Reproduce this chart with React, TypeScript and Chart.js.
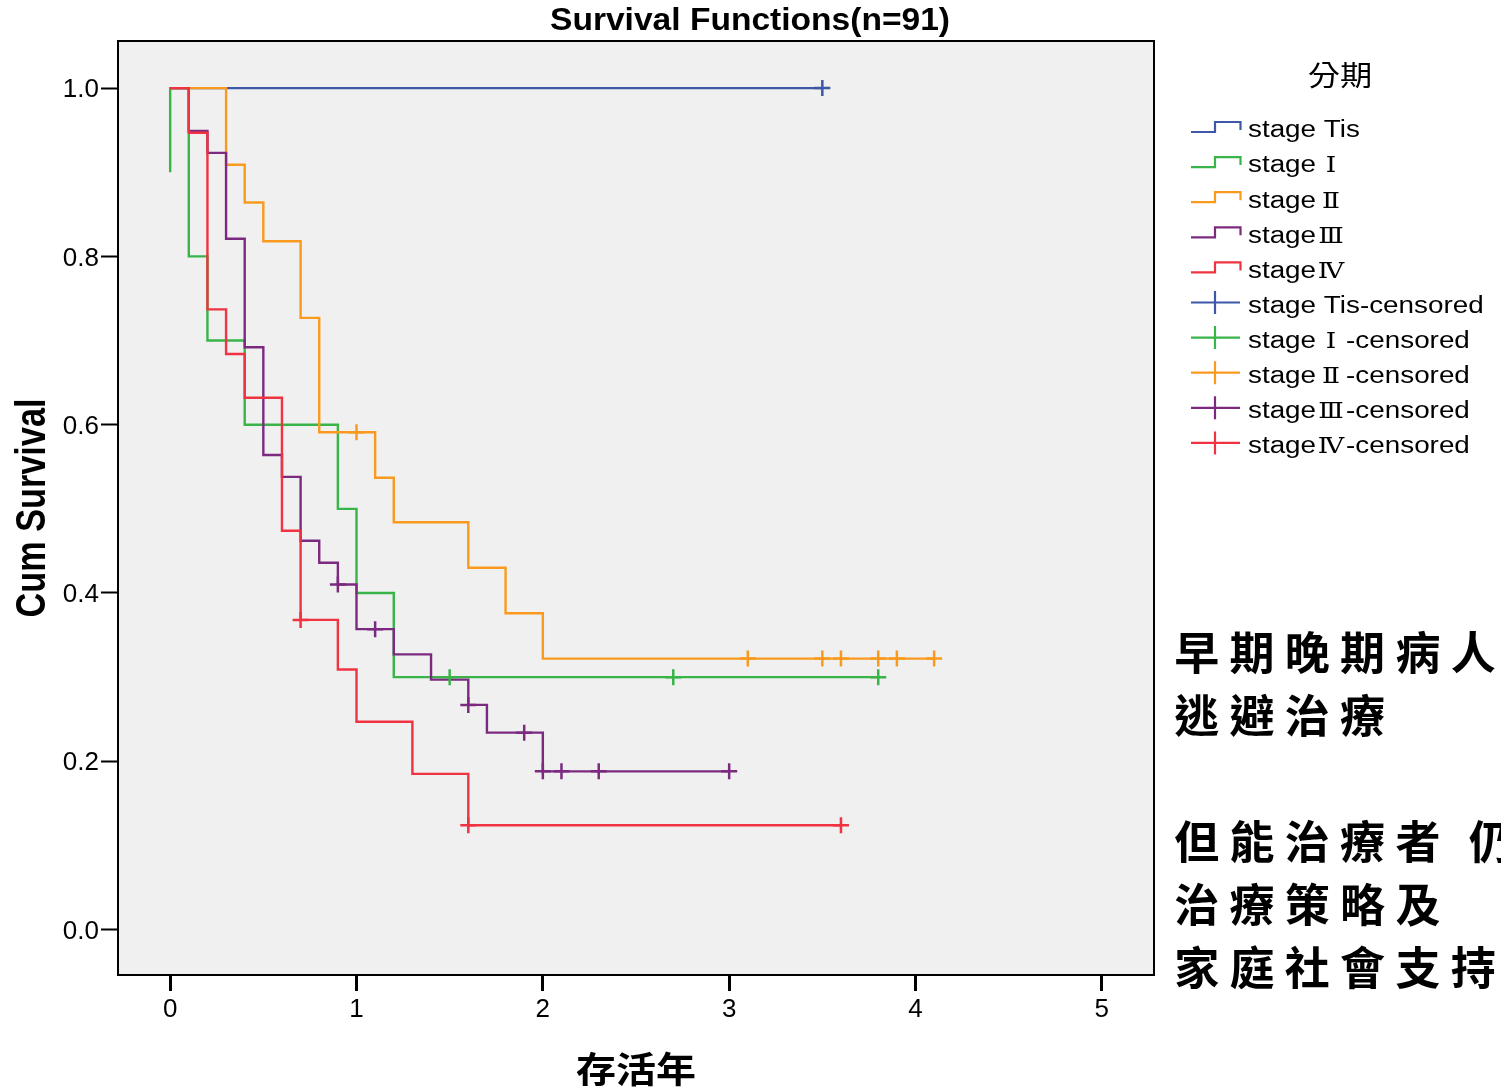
import React, { useEffect, useRef } from 'react';
import { Chart, registerables } from 'chart.js';

Chart.register(...registerables);

// ---------- data ----------
const chartTitle = 'Survival Functions(n=91)';
const xAxisTitle = '存活年';
const yAxisTitle = 'Cum Survival';
const legendTitle = '分期';

const xTickValues = [0, 1, 2, 3, 4, 5];
const yTickValues = [0, 0.2, 0.4, 0.6, 0.8, 1.0];

// legend label parts: prefix + roman numeral (full-width cell) + suffix
const stagePrefixes = ['stage Tis', 'stage', 'stage', 'stage', 'stage'];
const stageNumerals = ['', 'Ⅰ', 'Ⅱ', 'Ⅲ', 'Ⅳ'];
const censoredSuffix = '-censored';

// stage Tis
const tisTimes = [0, 3.5];
const tisSurv = [1.0, 1.0];
const tisCensorTimes = [3.5];
const tisCensorSurv = [1.0];

// stage I
const s1Times = [0, 0, 0.1, 0.2, 0.4, 0.9, 1.0, 1.2, 3.8];
const s1Surv = [0.9, 1.0, 0.8, 0.7, 0.6, 0.5, 0.4, 0.3, 0.3];
const s1CensorTimes = [1.5, 2.7, 3.8];
const s1CensorSurv = [0.3, 0.3, 0.3];

// stage II
const s2Times = [0, 0.3, 0.4, 0.5, 0.7, 0.8, 1.1, 1.2, 1.6, 1.8, 2.0, 4.1];
const s2Surv = [1.0, 0.909, 0.864, 0.818, 0.727, 0.591, 0.537, 0.484, 0.43, 0.376, 0.322, 0.322];
const s2CensorTimes = [1.0, 3.1, 3.5, 3.6, 3.8, 3.9, 4.1];
const s2CensorSurv = [0.591, 0.322, 0.322, 0.322, 0.322, 0.322, 0.322];

// stage III
const s3Times = [0, 0.1, 0.2, 0.3, 0.4, 0.5, 0.6, 0.7, 0.8, 0.9, 1.0, 1.2, 1.4, 1.6, 1.7, 2.0, 3.0];
const s3Surv = [1.0, 0.949, 0.923, 0.821, 0.692, 0.564, 0.538, 0.462, 0.436, 0.41, 0.357, 0.327, 0.297, 0.267, 0.234, 0.188, 0.188];
const s3CensorTimes = [0.9, 1.1, 1.6, 1.9, 2.0, 2.1, 2.3, 3.0];
const s3CensorSurv = [0.41, 0.357, 0.267, 0.234, 0.188, 0.188, 0.188, 0.188];

// stage IV
const s4Times = [0, 0.1, 0.2, 0.3, 0.4, 0.6, 0.7, 0.9, 1.0, 1.3, 1.6, 3.6];
const s4Surv = [1.0, 0.947, 0.737, 0.684, 0.632, 0.474, 0.368, 0.309, 0.247, 0.185, 0.124, 0.124];
const s4CensorTimes = [0.7, 1.6, 3.6];
const s4CensorSurv = [0.368, 0.124, 0.124];

const noteLines = ['早期晚期病人', '逃避治療', '', '但能治療者 仍', '治療策略及', '家庭社會支持'];

// ---------- styles ----------
const stageColors = ['#3d57a9', '#38b449', '#f99a1f', '#7b2a80', '#ef3340'];
const LATIN = '"Liberation Sans", Arial, "Noto Sans CJK TC", sans-serif';
const SERIF = '"Liberation Serif", "DejaVu Serif", "Noto Sans CJK TC", serif';
const CJK = '"Noto Sans CJK TC", "Noto Sans CJK SC", sans-serif';

const pts = (xs: number[], ys: number[]) => xs.map((x, i) => ({ x, y: ys[i] }));

function scaledText(
  ctx: CanvasRenderingContext2D,
  text: string,
  x: number,
  y: number,
  font: string,
  sx: number,
  align: CanvasTextAlign = 'left',
  baseline: CanvasTextBaseline = 'alphabetic'
) {
  ctx.save();
  ctx.font = font;
  ctx.textAlign = align;
  ctx.textBaseline = baseline;
  ctx.fillStyle = '#000';
  ctx.translate(x, y);
  ctx.scale(sx, 1);
  ctx.fillText(text, 0, 0);
  ctx.restore();
}

const decorPlugin = {
  id: 'decor',
  beforeDraw(chart: any) {
    const { ctx, chartArea: a } = chart;
    ctx.save();
    ctx.fillStyle = '#ffffff';
    ctx.fillRect(0, 0, chart.width, chart.height);
    ctx.fillStyle = '#f0f0f0';
    ctx.fillRect(a.left, a.top, a.right - a.left, a.bottom - a.top);
    ctx.restore();
  },
  afterDraw(chart: any) {
    const { ctx, chartArea: a } = chart;
    ctx.save();
    // plot frame
    ctx.strokeStyle = '#000';
    ctx.lineWidth = 2;
    ctx.strokeRect(a.left, a.top, a.right - a.left, a.bottom - a.top);

    // chart title
    ctx.font = `bold 32px ${LATIN}`;
    const tw = ctx.measureText(chartTitle).width;
    scaledText(ctx, chartTitle, 750, 30, `bold 32px ${LATIN}`, 400 / tw, 'center');

    // y axis title (rotated)
    ctx.font = `bold 36px ${LATIN}`;
    const yw = ctx.measureText(yAxisTitle).width;
    ctx.save();
    ctx.translate(45, (a.top + a.bottom) / 2);
    ctx.rotate(-Math.PI / 2);
    ctx.scale(219 / yw, 1.16);
    ctx.textAlign = 'center';
    ctx.textBaseline = 'alphabetic';
    ctx.fillStyle = '#000';
    ctx.fillText(yAxisTitle, 0, 0);
    ctx.restore();

    // x axis title
    ctx.font = `bold 36px ${CJK}`;
    const xw = ctx.measureText(xAxisTitle).width;
    scaledText(ctx, xAxisTitle, (a.left + a.right) / 2, 1083, `bold 36px ${CJK}`, 120 / xw, 'center');

    // legend title
    scaledText(ctx, legendTitle, 1340, 75, `28px ${CJK}`, 1.15, 'center', 'middle');

    // legend entries
    const rows = [
      ...stagePrefixes.map((p, i) => ({ p, n: stageNumerals[i], s: '', color: stageColors[i], kind: 'step' })),
      ...stagePrefixes.map((p, i) => ({ p, n: stageNumerals[i], s: censoredSuffix, color: stageColors[i], kind: 'cross' })),
    ];
    const SX = 1.21;
    rows.forEach((r, i) => {
      const cy = 129 + i * 35.1;
      ctx.save();
      ctx.strokeStyle = r.color;
      ctx.lineWidth = 2.2;
      ctx.beginPath();
      if (r.kind === 'step') {
        ctx.moveTo(1191, cy + 3);
        ctx.lineTo(1215, cy + 3);
        ctx.lineTo(1215, cy - 7);
        ctx.lineTo(1240.5, cy - 7);
        ctx.lineTo(1240.5, cy + 1);
      } else {
        ctx.moveTo(1191, cy - 2);
        ctx.lineTo(1240, cy - 2);
        ctx.moveTo(1215, cy - 13.5);
        ctx.lineTo(1215, cy + 9.5);
      }
      ctx.stroke();
      ctx.restore();
      const base = cy + 8.3;
      const latinFont = `23px ${LATIN}`;
      scaledText(ctx, r.p, 1248, base, latinFont, SX, 'left');
      let x = 1248;
      ctx.font = latinFont;
      x += ctx.measureText(r.p).width * SX;
      if (r.n) {
        scaledText(ctx, r.n, x + 15, base, `23px ${SERIF}`, 1.15, 'center');
        x += 30;
      }
      if (r.s) scaledText(ctx, r.s, x, base, latinFont, SX, 'left');
    });

    // annotation text
    ctx.save();
    ctx.font = `bold 45px ${CJK}`;
    ctx.fillStyle = '#000';
    ctx.textAlign = 'center';
    ctx.textBaseline = 'middle';
    noteLines.forEach((line, li) => {
      const cy = 653 + li * 63;
      let cx = 1196.7;
      for (const ch of Array.from(line)) {
        if (ch === ' ') {
          cx += 18;
          continue;
        }
        ctx.fillText(ch, cx, cy);
        cx += 55.3;
      }
    });
    ctx.restore();
    ctx.restore();
  },
};

export default function App() {
  const canvasRef = useRef<HTMLCanvasElement | null>(null);

  useEffect(() => {
    document.body.style.margin = '0';
    document.body.style.overflow = 'hidden';
    const canvas = canvasRef.current;
    if (!canvas) return;

    const lineSets = [
      { t: s4Times, s: s4Surv, c: stageColors[4] },
      { t: s3Times, s: s3Surv, c: stageColors[3] },
      { t: s2Times, s: s2Surv, c: stageColors[2] },
      { t: s1Times, s: s1Surv, c: stageColors[1] },
      { t: tisTimes, s: tisSurv, c: stageColors[0] },
    ];
    const censorSets = [
      { t: s4CensorTimes, s: s4CensorSurv, c: stageColors[4] },
      { t: s3CensorTimes, s: s3CensorSurv, c: stageColors[3] },
      { t: s2CensorTimes, s: s2CensorSurv, c: stageColors[2] },
      { t: s1CensorTimes, s: s1CensorSurv, c: stageColors[1] },
      { t: tisCensorTimes, s: tisCensorSurv, c: stageColors[0] },
    ];

    const datasets: any[] = [
      ...censorSets.map((d) => ({
        data: pts(d.t, d.s),
        showLine: false,
        pointStyle: 'cross',
        pointRadius: 8,
        pointHoverRadius: 8,
        pointBorderWidth: 2.5,
        pointBorderColor: d.c,
        pointBackgroundColor: d.c,
        borderColor: d.c,
      })),
      ...lineSets.map((d) => ({
        data: pts(d.t, d.s),
        stepped: 'before',
        borderColor: d.c,
        borderWidth: 2.4,
        pointRadius: 0,
        pointHoverRadius: 0,
        fill: false,
      })),
    ];

    const tickFont = { family: '"Liberation Sans", Arial, sans-serif', size: 26 };

    const chart = new Chart(canvas, {
      type: 'line',
      data: { datasets },
      options: {
        animation: false,
        responsive: false,
        events: [],
        layout: { padding: { left: 0, right: 347, top: 41, bottom: 0 } },
        plugins: {
          legend: { display: false },
          tooltip: { enabled: false },
          title: { display: false },
        },
        scales: {
          x: {
            type: 'linear',
            min: -0.28,
            max: 5.28,
            afterBuildTicks: (s: any) => {
              s.ticks = xTickValues.map((v) => ({ value: v }));
            },
            afterFit: (s: any) => {
              s.height = 114;
            },
            border: { display: false },
            grid: {
              display: true,
              drawOnChartArea: false,
              drawTicks: true,
              tickLength: 16,
              tickWidth: 3,
              tickColor: '#000',
            },
            ticks: {
              font: tickFont,
              color: '#000',
              padding: 3,
              maxRotation: 0,
              autoSkip: false,
              callback: (v: any) => String(v),
            },
          },
          y: {
            type: 'linear',
            min: -0.054,
            max: 1.056,
            afterBuildTicks: (s: any) => {
              s.ticks = yTickValues.map((v) => ({ value: v }));
            },
            afterFit: (s: any) => {
              s.width = 118;
            },
            border: { display: false },
            grid: {
              display: true,
              drawOnChartArea: false,
              drawTicks: true,
              tickLength: 17,
              tickWidth: 2,
              tickColor: '#000',
            },
            ticks: {
              font: tickFont,
              color: '#000',
              padding: 2,
              labelOffset: 2,
              autoSkip: false,
              callback: (v: any) => Number(v).toFixed(1),
            },
          },
        },
      } as any,
      plugins: [decorPlugin as any],
    });

    return () => {
      chart.destroy();
    };
  }, []);

  return (
    <div style={{ position: 'absolute', left: 0, top: 0, width: 1501, height: 1089, overflow: 'hidden' }}>
      <canvas ref={canvasRef} width={1501} height={1089} style={{ display: 'block', width: 1501, height: 1089 }} />
    </div>
  );
}
